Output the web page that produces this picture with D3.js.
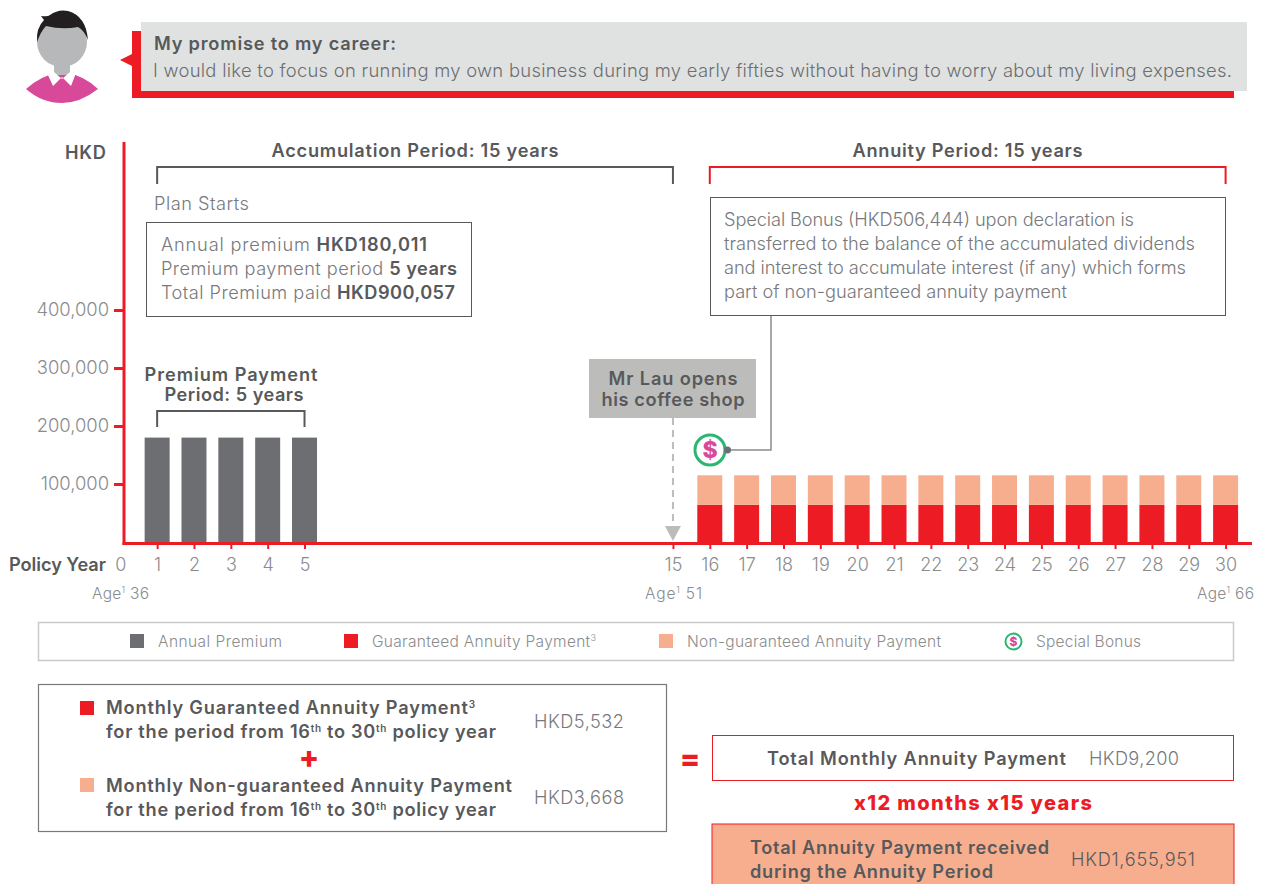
<!DOCTYPE html>
<html><head><meta charset="utf-8">
<script src="https://cdn.jsdelivr.net/npm/d3@7/dist/d3.min.js"></script>
<style>
html,body{margin:0;padding:0;background:#fff}
svg{display:block}
text{font-family:Inter,Roboto,sans-serif}
</style></head><body>
<svg id="c" width="1261" height="884"></svg>
<script>
// ---- data ----
const premiumYears = [1, 2, 3, 4, 5];
const premiumValues = [180011, 180011, 180011, 180011, 180011];
const annuityYears = [16,17,18,19,20,21,22,23,24,25,26,27,28,29,30];
const guaranteedValues = [64000,64000,64000,64000,64000,64000,64000,64000,64000,64000,64000,64000,64000,64000,64000];
const nonGuaranteedValues = [51000,51000,51000,51000,51000,51000,51000,51000,51000,51000,51000,51000,51000,51000,51000];
const yTicks = [100000, 200000, 300000, 400000];
const xTicks = [0,1,2,3,4,5,15,16,17,18,19,20,21,22,23,24,25,26,27,28,29,30];
const ageMarks = [{x:92,age:"36"},{x:645,age:"51"},{x:1197,age:"66"}];
const legendItems = ["Annual Premium","Guaranteed Annuity Payment","Non-guaranteed Annuity Payment","Special Bonus"];
const bonusLines = ["Special Bonus (HKD506,444) upon declaration is","transferred to the balance of the accumulated dividends","and interest to accumulate interest (if any) which forms","part of non-guaranteed annuity payment"];

const RED="#ed1c24", PEACH="#f7ae8e", GREY="#6d6e71", DARK="#58595b", MID="#77797c", LIGHT="#8a8c8e", GREEN="#2bb673", PINK="#d9499a";
const svg=d3.select("#c");
const x=d3.scaleLinear().domain([0,30]).range([120.3,1225.6]);
const y=d3.scaleLinear().domain([0,400000]).range([542,310]);
const barW=25;

function T(px,py,s,o={}){
  const t=svg.append("text").attr("x",px).attr("y",py).attr("font-size",o.size||18.2)
    .attr("fill",o.fill||MID).attr("font-weight",o.weight||300).attr("text-anchor",o.anchor||"start");
  if(o.w){t.attr("textLength",o.w).attr("lengthAdjust","spacing");}
  let pending=0;
  (Array.isArray(s)?s:[s]).forEach(p=>{
    let n;
    if(typeof p==="string") n=t.append("tspan").text(p);
    else if(p.sup){ n=t.append("tspan").attr("font-size",p.size||11).text(p.sup); n.attr("dy",pending-6); pending=6; return; }
    else n=t.append("tspan").attr("font-weight",p.b?600:null).attr("fill",p.b?DARK:null).text(p.t);
    if(pending){n.attr("dy",pending);pending=0;}
  });
  return t;
}
function box(a,b,w,h,stroke,fill,sw){svg.append("rect").attr("x",a).attr("y",b).attr("width",w).attr("height",h)
  .attr("fill",fill||"none").attr("stroke",stroke||"none").attr("stroke-width",sw||1);}

// ---- person icon ----
const p=svg.append("g");
p.append("path").attr("fill",PINK).attr("d","M26 89 Q40 76 62 71 Q85 76 98 89 Q80 103 62 103 Q42 103 26 89Z");
p.append("rect").attr("x",54).attr("y",60).attr("width",16).attr("height",15).attr("fill","#b7b8ba");
p.append("path").attr("fill","#fff").attr("d","M47 73 L54 72 L62 79 L70 72 L76 73 L71 86 L62 77 L53 86Z");
p.append("circle").attr("cx",62).attr("cy",42).attr("r",25).attr("fill","#b7b8ba");
p.append("path").attr("fill","#231f20").attr("d","M37 42 Q36 28 44 20 L41 16 Q48 17 50 15 Q58 9 68 11 Q86 16 88 40 Q84 30 78 27 Q62 30 46 26 Q41 31 37 42Z");

// ---- speech bubble ----
svg.append("path").attr("fill",RED).attr("d","M132 31H1234V98H132V66L120 60L132 54Z");
svg.append("rect").attr("x",141).attr("y",22).attr("width",1106).attr("height",69).attr("fill","#e0e2e1");
T(154,50,"My promise to my career:",{weight:600,fill:DARK,w:242});
T(153,77,"I would like to focus on running my own business during my early fifties without having to worry about my living expenses.",{size:18.4,w:1079,fill:"#6d6e71"});

// ---- period brackets ----
function bracket(a,b,yy,col,sw,drop){svg.append("path").attr("fill","none").attr("stroke",col).attr("stroke-width",sw||2)
  .attr("d",`M${a} ${yy+drop}V${yy}H${b}V${yy+drop}`);}
T(415,157,"Accumulation Period: 15 years",{anchor:"middle",weight:600,fill:DARK,w:287});
bracket(x(1),x(15),167,DARK,2,17);
T(967.5,157,"Annuity Period: 15 years",{anchor:"middle",weight:600,fill:DARK,w:230});
bracket(x(16),x(30),167,RED,2,17);
T(154,210,"Plan Starts",{w:95,fill:MID});

box(146.5,222.5,325,94,DARK,"#fff",1);
T(161,251,["Annual premium ",{t:"HKD180,011",b:1}],{w:266});
T(161,275,["Premium payment period ",{t:"5 years",b:1}],{w:296});
T(161,299,["Total Premium paid ",{t:"HKD900,057",b:1}],{w:294});

box(710.5,197.5,515,118,DARK,"#fff",1);
bonusLines.forEach((l,i)=>T(724,226+24*i,l,{w:[410,471,462,343][i]}));

// ---- bars ----
svg.append("g").selectAll("rect").data(premiumYears).join("rect")
  .attr("x",d=>x(d)-barW/2).attr("width",barW)
  .attr("y",(d,i)=>y(premiumValues[i])).attr("height",(d,i)=>y(0)-y(premiumValues[i])).attr("fill",GREY);
svg.append("g").selectAll("rect").data(annuityYears).join("rect")
  .attr("x",d=>x(d)-barW/2).attr("width",barW)
  .attr("y",(d,i)=>y(guaranteedValues[i])).attr("height",(d,i)=>y(0)-y(guaranteedValues[i])).attr("fill",RED);
svg.append("g").selectAll("rect").data(annuityYears).join("rect")
  .attr("x",d=>x(d)-barW/2).attr("width",barW)
  .attr("y",(d,i)=>y(guaranteedValues[i]+nonGuaranteedValues[i])).attr("height",(d,i)=>y(guaranteedValues[i])-y(guaranteedValues[i]+nonGuaranteedValues[i])).attr("fill",PEACH);

// ---- axes ----
const ay=svg.append("g").attr("transform","translate(124,0)")
  .call(d3.axisLeft(y).tickValues(yTicks).tickSize(10).tickPadding(5).tickFormat(d3.format(",")));
ay.select(".domain").remove();
ay.selectAll("line").attr("stroke",RED).attr("stroke-width",3);
ay.selectAll("text").attr("font-size",18.4).attr("font-weight",300).attr("fill",LIGHT).attr("font-family","Inter");
const ax=svg.append("g").attr("transform","translate(0,544)")
  .call(d3.axisBottom(x).tickValues(xTicks).tickSize(5).tickPadding(9).tickFormat(d3.format("d")));
ax.select(".domain").remove();
ax.selectAll("line").attr("stroke",RED).attr("stroke-width",2).filter(d=>d===0).remove();
ax.selectAll("text").attr("font-size",18).attr("font-weight",300).attr("fill",LIGHT).attr("font-family","Inter");
svg.append("line").attr("x1",124).attr("x2",124).attr("y1",142).attr("y2",545).attr("stroke",RED).attr("stroke-width",3);
svg.append("line").attr("x1",122.5).attr("x2",1252).attr("y1",543.5).attr("y2",543.5).attr("stroke",RED).attr("stroke-width",3);
T(106,159,"HKD",{anchor:"end",weight:600,fill:DARK,w:41});
T(106,571,"Policy Year",{anchor:"end",weight:600,fill:DARK,w:97});
ageMarks.forEach(m=>T(m.x,599,["Age",{sup:"1",size:9},"\u00a0"+m.age],{size:15.5,fill:LIGHT,w:57}));

// ---- premium bracket ----
T(231,381,"Premium Payment",{anchor:"middle",weight:600,fill:DARK,w:173});
T(234,401,"Period: 5 years",{anchor:"middle",weight:600,fill:DARK,w:139});
bracket(x(1),x(5),411,DARK,2,16);

// ---- coffee shop callout ----
svg.append("rect").attr("x",589).attr("y",359).attr("width",167).attr("height",59).attr("fill","#bcbdbb");
T(673,385,"Mr Lau opens",{anchor:"middle",weight:600,fill:DARK,w:129});
T(673,406,"his coffee shop",{anchor:"middle",weight:600,fill:DARK,w:143});
svg.append("line").attr("x1",x(15)).attr("x2",x(15)).attr("y1",418).attr("y2",527).attr("stroke","#bcbdbb").attr("stroke-width",2).attr("stroke-dasharray","7 5");
svg.append("path").attr("fill","#bcbdbb").attr("d",`M${x(15)-8} 526H${x(15)+8}L${x(15)} 541Z`);

// ---- special bonus icon ----
function bonus(cx,cy,r,sw,fs){
  svg.append("circle").attr("cx",cx).attr("cy",cy).attr("r",r).attr("fill","#fff").attr("stroke",GREEN).attr("stroke-width",sw);
  T(cx,cy+fs*0.36,"$",{anchor:"middle",weight:800,fill:PINK,size:fs});
}
bonus(710,450,15,3,23);
svg.append("path").attr("fill","none").attr("stroke",LIGHT).attr("stroke-width",1.5).attr("d","M771 316V450H727");
svg.append("circle").attr("cx",727.5).attr("cy",450).attr("r",3.5).attr("fill",GREY);

// ---- legend ----
box(38.5,622.5,1195,38,"#c8c9ca","#fff",1.5);
const legX=[130,344,659], legC=[GREY,RED,PEACH];
legendItems.forEach((l,i)=>{
  if(i<3) svg.append("rect").attr("x",legX[i]).attr("y",634).attr("width",14).attr("height",14).attr("fill",legC[i]);
  else bonus(1013.5,641.5,8,2,12);
  const tx=[158,372,687,1036][i], w=[124,224,254,105][i];
  T(tx,647,i===1?[l,{sup:"3",size:9}]:l,{size:15.5,fill:LIGHT,w});
});

// ---- summary ----
box(38.5,684.5,628,147,MID,"#fff",1.2);
svg.append("rect").attr("x",80).attr("y",701).attr("width",14).attr("height",14).attr("fill",RED);
svg.append("rect").attr("x",80).attr("y",778).attr("width",14).attr("height",14).attr("fill",PEACH);
const o={weight:600,fill:DARK};
T(106,714,["Monthly Guaranteed Annuity Payment",{sup:"3",size:10}],{...o,w:369});
T(106,738,["for the period from 16",{sup:"th",size:10}," to 30",{sup:"th",size:10}," policy year"],{...o,w:390});
T(106,792,"Monthly Non-guaranteed Annuity Payment",{...o,w:406});
T(106,816,["for the period from 16",{sup:"th",size:10}," to 30",{sup:"th",size:10}," policy year"],{...o,w:390});
T(309,768,"+",{anchor:"middle",weight:800,fill:RED,size:30});
T(534,728,"HKD5,532",{w:90});
T(534,804,"HKD3,668",{w:90});
T(690,769,"=",{anchor:"middle",weight:800,fill:RED,size:30});
box(712.5,735.5,521,45,RED,"#fff",1);
T(767,765,"Total Monthly Annuity Payment",{...o,w:299});
T(1089,765,"HKD9,200",{w:90});
T(973,810,"x12 months x15 years",{anchor:"middle",weight:800,fill:RED,size:20,w:238});
svg.append("rect").attr("x",712).attr("y",824).attr("width",522).attr("height",70).attr("fill",PEACH).attr("stroke",RED).attr("stroke-width",1);
T(750,854,"Total Annuity Payment received",{...o,w:299});
T(750,878,"during the Annuity Period",{...o,w:243});
T(1071,866,"HKD1,655,951",{w:124,fill:DARK});
</script>
</body></html>
